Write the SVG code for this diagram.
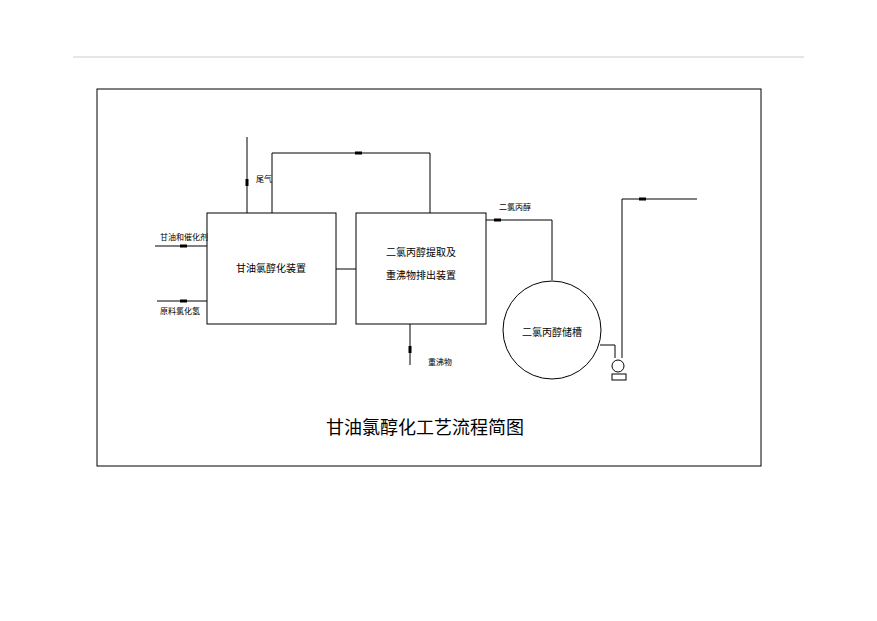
<svg xmlns="http://www.w3.org/2000/svg" width="877" height="621" viewBox="0 0 877 621">
<style>
.l{stroke:#000;stroke-width:1;fill:none}
.t{font-family:"Liberation Sans","Noto Sans CJK SC",sans-serif;fill:#000}
.s{font-size:8px}
.m{font-size:10px}
.a{fill:#000}
</style>
<rect width="877" height="621" fill="#fff"/>
<line x1="73" y1="57" x2="804" y2="57" stroke="#ccc"/>
<rect x="97" y="89" width="664" height="377" class="l"/>
<g id="connectors">
<path class="l" d="M247,213V137"/><rect class="a" x="245.5" y="179" width="3" height="7"/>
<path class="l" d="M272,213V153H430V213"/><rect class="a" x="355" y="151.5" width="7" height="3"/>
<path class="l" d="M155,246H207"/><rect class="a" x="180" y="244.5" width="7" height="3"/>
<path class="l" d="M157,301H207"/><rect class="a" x="180" y="299.5" width="7" height="3"/>
<path class="l" d="M336,269H356"/>
<path class="l" d="M410,324V365"/><rect class="a" x="408.5" y="346" width="3" height="7"/>
<path class="l" d="M486,220H552V280"/><rect class="a" x="494" y="218.5" width="7" height="3"/>
<path class="l" d="M600,345H615V358"/>
<path class="l" d="M622,358V199H697"/><rect class="a" x="639" y="197.5" width="7" height="3"/>
</g>
<g id="box1"><rect x="207" y="213" width="129" height="111" class="l"/><text x="271" y="272" class="t m" text-anchor="middle">甘油氯醇化装置</text></g>
<g id="box2"><rect x="356" y="213" width="130" height="111" class="l"/><text x="421" y="256" class="t m" text-anchor="middle">二氯丙醇提取及</text><text x="421" y="279" class="t m" text-anchor="middle">重沸物排出装置</text></g>
<g id="tank"><circle cx="552" cy="330" r="49" class="l"/><text x="552" y="336" class="t m" text-anchor="middle">二氯丙醇储槽</text></g>
<g id="pump"><circle cx="618" cy="366" r="6" class="l"/><rect x="612" y="374" width="14" height="6" class="l"/></g>
<g id="labels">
<text x="256" y="182" class="t s">尾气</text>
<text x="160" y="240" class="t s">甘油和催化剂</text>
<text x="160" y="314" class="t s">原料氯化氢</text>
<text x="428" y="365" class="t s">重沸物</text>
<text x="499" y="210" class="t s">二氯丙醇</text>
<text x="425" y="434" class="t" font-size="18" text-anchor="middle">甘油氯醇化工艺流程简图</text>
</g>
</svg>
